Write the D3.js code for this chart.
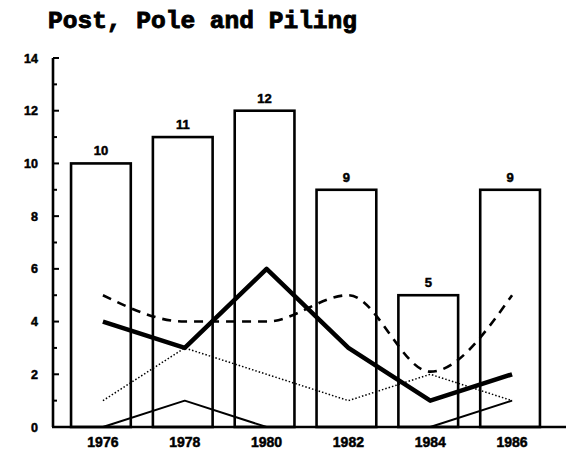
<!DOCTYPE html>
<html>
<head>
<meta charset="utf-8">
<script src="https://cdn.jsdelivr.net/npm/d3@7"></script>
<style>
  body { margin: 0; background: #fff; }
  text { fill: #000; }
</style>
</head>
<body>
<div id="chart"></div>
<script>
const years = ["1976", "1978", "1980", "1982", "1984", "1986"];
const barValues = [10, 11, 12, 9, 5, 9];
const thickSolid = [4, 3, 6, 3, 1, 2];
const dashed = [5, 4, 4, 5, 2.1, 5];
const dotted = [1, 3, 2, 1, 2, 1];
const thinSolid = [0, 1, 0, 0, 0, 1];
const yTicks = [0, 2, 4, 6, 8, 10, 12, 14];

const W = 571, H = 452;
const svg = d3.select("#chart").append("svg")
  .attr("width", W).attr("height", H);

svg.append("text")
  .attr("x", 48).attr("y", 28)
  .attr("font-family", "Liberation Mono, monospace")
  .attr("font-weight", "bold")
  .attr("font-size", 24)
  .attr("stroke", "#000")
  .attr("stroke-width", 0.9)
  .attr("textLength", 309)
  .attr("lengthAdjust", "spacingAndGlyphs")
  .text("Post, Pole and Piling");

const x = d3.scaleBand().domain(years).range([60, 551]).paddingInner(0.27).paddingOuter(0.135);
const y = d3.scaleLinear().domain([0, 14]).range([427, 58]);
const cx = (i) => x(years[i]) + x.bandwidth() / 2 + 2;

// bars
svg.append("g").selectAll("rect")
  .data(barValues).enter().append("rect")
  .attr("x", (d, i) => x(years[i]))
  .attr("y", (d) => y(d))
  .attr("width", x.bandwidth())
  .attr("height", (d) => y(0) - y(d))
  .attr("fill", "#fff")
  .attr("stroke", "#000")
  .attr("stroke-width", 2.6);

svg.append("g").selectAll("text")
  .data(barValues).enter().append("text")
  .attr("x", (d, i) => x(years[i]) + x.bandwidth() / 2)
  .attr("y", (d) => y(d) - 8)
  .attr("text-anchor", "middle")
  .attr("font-family", "Liberation Sans, Arial, sans-serif")
  .attr("font-weight", "bold")
  .attr("font-size", 13)
  .attr("stroke", "#000")
  .attr("stroke-width", 0.5)
  .text((d) => d);

// lines
function drawLine(vals, width, dash, curve) {
  const line = d3.line()
    .x((d, i) => cx(i))
    .y((d) => y(d))
    .curve(curve || d3.curveLinear);
  svg.append("path")
    .datum(vals)
    .attr("d", line)
    .attr("fill", "none")
    .attr("stroke", "#000")
    .attr("stroke-width", width)
    .attr("stroke-dasharray", dash)
    .attr("stroke-linejoin", "round");
}
drawLine(thinSolid, 2, null);
drawLine(dotted, 1.5, "1.5,2");
drawLine(dashed, 2.6, "9,7", d3.curveMonotoneX);
drawLine(thickSolid, 4.5, null);

// axes
const gy = svg.append("g").attr("transform", "translate(53,0)");
gy.append("line").attr("x1", 0).attr("x2", 0).attr("y1", y(14)).attr("y2", y(0))
  .attr("stroke", "#000").attr("stroke-width", 2.6);
gy.selectAll("line.tick")
  .data(d3.range(1, 15)).enter().append("line")
  .attr("class", "tick")
  .attr("x1", 0).attr("x2", (d) => d % 2 === 0 ? 6 : 4)
  .attr("y1", (d) => y(d)).attr("y2", (d) => y(d))
  .attr("stroke", "#000").attr("stroke-width", 2);
gy.selectAll("text")
  .data(yTicks).enter().append("text")
  .attr("x", -15).attr("y", (d) => y(d) + 4.5)
  .attr("text-anchor", "end")
  .attr("font-family", "Liberation Sans, Arial, sans-serif")
  .attr("font-weight", "bold")
  .attr("font-size", 12.5)
  .attr("stroke", "#000")
  .attr("stroke-width", 0.5)
  .text((d) => d);

svg.append("line")
  .attr("x1", 52).attr("x2", 566).attr("y1", y(0)).attr("y2", y(0))
  .attr("stroke", "#000").attr("stroke-width", 2.6);

const xAxis = d3.axisBottom(x).tickSize(0).tickPadding(10);
const gx = svg.append("g").attr("transform", `translate(2,${y(0)})`).call(xAxis);
gx.select(".domain").remove();
gx.selectAll("text")
  .attr("font-family", "Liberation Sans, Arial, sans-serif")
  .attr("font-weight", "bold")
  .attr("font-size", 14)
  .attr("stroke", "#000")
  .attr("stroke-width", 0.5)
  .attr("fill", "#000");
</script>
</body>
</html>
